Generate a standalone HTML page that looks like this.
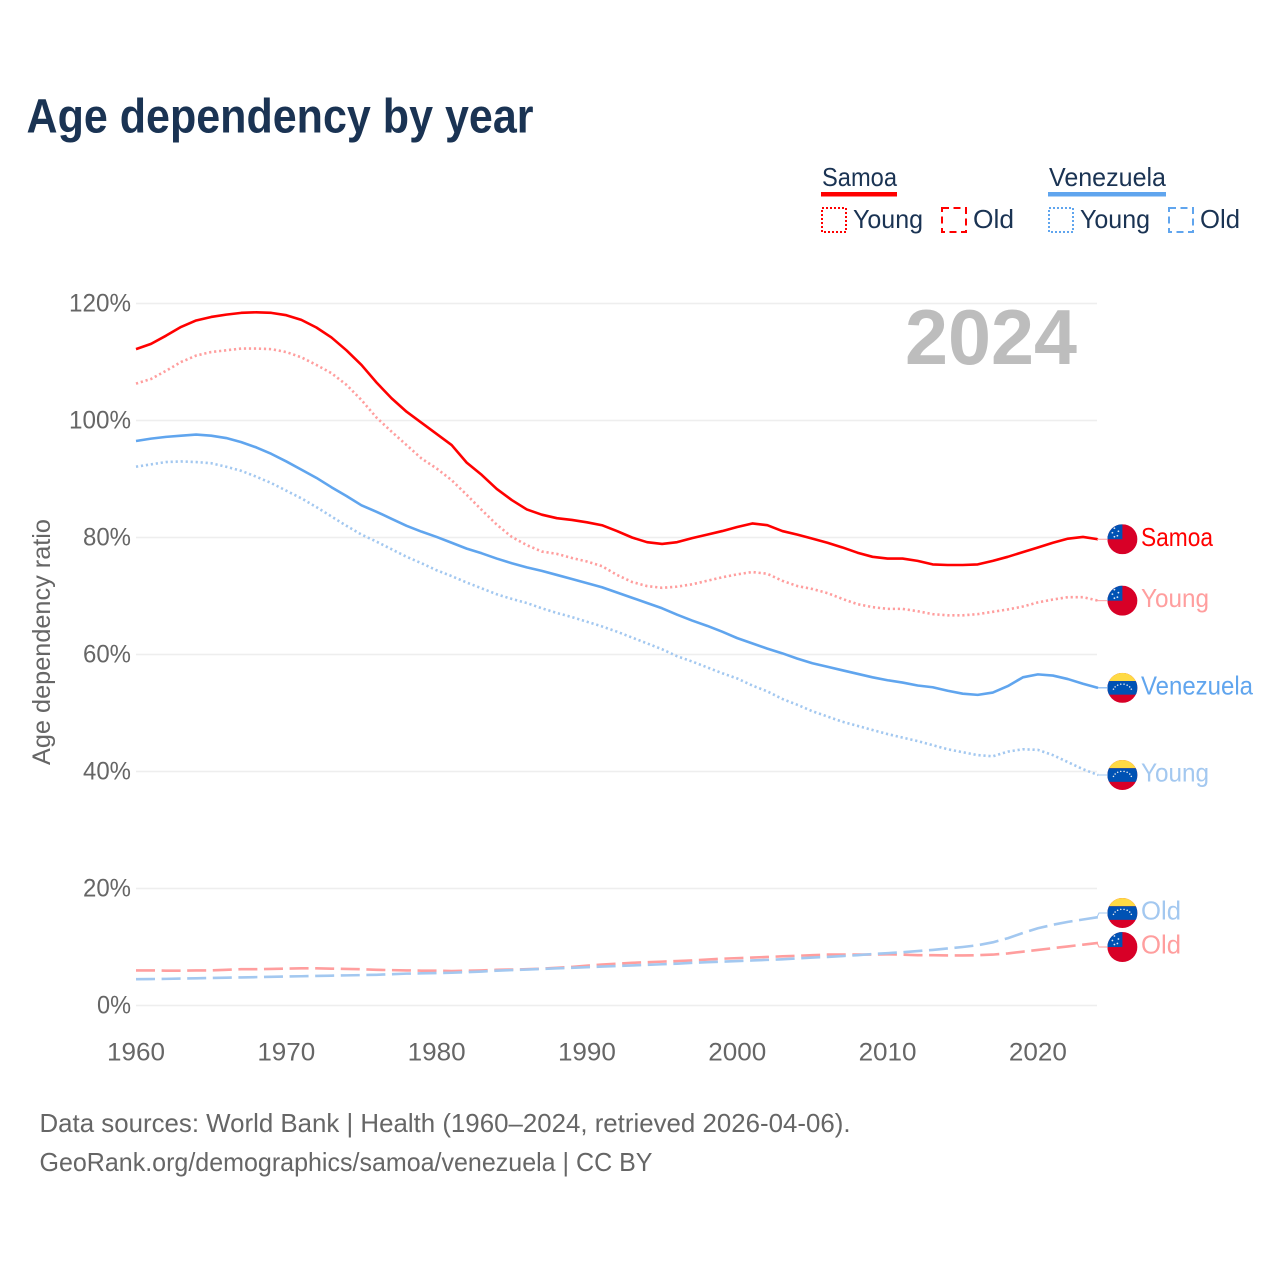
<!DOCTYPE html>
<html lang="en">
<head>
<meta charset="utf-8">
<title>Age dependency by year</title>
<style>
html,body{margin:0;padding:0;background:#fff;}
svg{display:block;}
text{font-family:"Liberation Sans",sans-serif;}
.tick{font-size:25px;fill:#666;}
.navy{fill:#1a3353;font-size:26px;}
</style>
</head>
<body>
<svg id="chart" xmlns="http://www.w3.org/2000/svg" width="1280" height="1280" viewBox="0 0 1280 1280">
  <rect width="1280" height="1280" fill="#fff"/>
  <text x="26.5" y="132.5" font-size="48" font-weight="700" fill="#1a3353" textLength="507" lengthAdjust="spacingAndGlyphs">Age dependency by year</text>

  <g>
    <text class="navy" x="822" y="186" textLength="75" lengthAdjust="spacingAndGlyphs">Samoa</text>
    <rect x="821" y="192" width="76" height="4.5" fill="#ff0000"/>
    <rect x="822" y="208" width="24" height="24" fill="none" stroke="#ff0000" stroke-width="2" stroke-dasharray="2 2"/>
    <text class="navy" x="853" y="228" textLength="70" lengthAdjust="spacingAndGlyphs">Young</text>
    <rect x="942" y="208" width="24" height="24" fill="none" stroke="#ff0000" stroke-width="2" stroke-dasharray="7 4.5"/>
    <text class="navy" x="973" y="228" textLength="41" lengthAdjust="spacingAndGlyphs">Old</text>

    <text class="navy" x="1049" y="186" textLength="117" lengthAdjust="spacingAndGlyphs">Venezuela</text>
    <rect x="1048" y="192" width="118" height="4.5" fill="#60a5ee"/>
    <rect x="1049" y="208" width="24" height="24" fill="none" stroke="#60a5ee" stroke-width="2" stroke-dasharray="2 2"/>
    <text class="navy" x="1080" y="228" textLength="70" lengthAdjust="spacingAndGlyphs">Young</text>
    <rect x="1169" y="208" width="24" height="24" fill="none" stroke="#60a5ee" stroke-width="2" stroke-dasharray="7 4.5"/>
    <text class="navy" x="1200" y="228" textLength="40" lengthAdjust="spacingAndGlyphs">Old</text>
  </g>

  <g id="grid"></g>
  <text x="905" y="364" font-size="78" font-weight="700" fill="#bdbdbd" textLength="172" lengthAdjust="spacingAndGlyphs">2024</text>
  <text transform="translate(50,765) rotate(-90)" font-size="25" fill="#666" textLength="246" lengthAdjust="spacingAndGlyphs">Age dependency ratio</text>
  <g id="yticks"></g>
  <g id="xticks"></g>
  <g id="series"></g>
  <g id="ends"></g>

  <text x="39.5" y="1132" font-size="26" fill="#666" textLength="811" lengthAdjust="spacingAndGlyphs">Data sources: World Bank | Health (1960–2024, retrieved 2026-04-06).</text>
  <text x="39.5" y="1171" font-size="26" fill="#666" textLength="613" lengthAdjust="spacingAndGlyphs">GeoRank.org/demographics/samoa/venezuela | CC BY</text>
</svg>
<script>
const firstYear = 1960;
const lastYear = 2024;
const yTickValues = [0, 20, 40, 60, 80, 100, 120];
const xTickValues = [1960, 1970, 1980, 1990, 2000, 2010, 2020];

const samoaTotal = [112.2,113.1,114.5,116.0,117.1,117.7,118.1,118.4,118.5,118.4,118.0,117.2,115.9,114.2,112.0,109.5,106.5,103.8,101.5,99.6,97.7,95.8,92.8,90.7,88.3,86.4,84.8,83.9,83.3,83.0,82.6,82.1,81.1,80.0,79.2,78.9,79.2,79.9,80.5,81.1,81.8,82.4,82.1,81.1,80.5,79.8,79.1,78.3,77.4,76.7,76.4,76.4,76.0,75.4,75.3,75.3,75.4,76.0,76.7,77.5,78.3,79.1,79.8,80.1,79.7];
const samoaYoung = [106.3,107.1,108.5,110.0,111.1,111.7,112.0,112.3,112.3,112.2,111.7,110.8,109.5,108.1,106.1,103.5,100.5,98.1,95.8,93.5,91.8,89.8,87.3,84.7,82.2,80.1,78.7,77.6,77.2,76.5,75.9,75.1,73.6,72.4,71.7,71.4,71.6,72.0,72.6,73.2,73.7,74.1,73.8,72.6,71.7,71.2,70.5,69.5,68.6,68.1,67.8,67.8,67.4,66.9,66.7,66.7,66.9,67.3,67.7,68.2,68.9,69.4,69.8,69.8,69.2];
const samoaOld = [6.0,6.0,5.95,5.95,6.0,6.0,6.1,6.2,6.2,6.25,6.3,6.35,6.35,6.3,6.25,6.2,6.1,6.05,6.0,5.95,5.95,5.9,5.95,6.0,6.1,6.15,6.2,6.3,6.45,6.6,6.8,7.0,7.15,7.3,7.4,7.5,7.6,7.7,7.85,8.0,8.1,8.2,8.3,8.4,8.5,8.6,8.7,8.7,8.7,8.7,8.75,8.7,8.6,8.6,8.55,8.55,8.6,8.7,8.9,9.2,9.5,9.8,10.1,10.4,10.7];
const venezuelaTotal = [96.5,96.9,97.2,97.4,97.6,97.4,97.0,96.3,95.4,94.3,93.0,91.6,90.2,88.6,87.1,85.5,84.4,83.2,82.0,81.0,80.1,79.1,78.1,77.3,76.4,75.6,74.9,74.3,73.6,72.9,72.2,71.5,70.6,69.7,68.8,67.9,66.8,65.8,64.9,63.9,62.8,61.9,61.0,60.2,59.3,58.5,57.9,57.3,56.7,56.1,55.6,55.2,54.7,54.4,53.8,53.3,53.1,53.5,54.6,56.1,56.6,56.4,55.8,55.0,54.3];
const venezuelaYoung = [92.1,92.5,92.9,93.0,92.9,92.7,92.1,91.4,90.4,89.3,88.0,86.7,85.2,83.6,82.0,80.5,79.3,78.0,76.7,75.6,74.4,73.4,72.3,71.3,70.3,69.5,68.8,67.9,67.1,66.4,65.6,64.8,63.9,62.9,61.9,60.9,59.7,58.8,57.8,56.8,55.9,54.7,53.7,52.4,51.4,50.3,49.4,48.5,47.8,47.1,46.4,45.8,45.2,44.5,43.8,43.3,42.8,42.6,43.4,43.8,43.7,42.8,41.6,40.4,39.4];
const venezuelaOld = [4.5,4.52,4.55,4.6,4.65,4.7,4.75,4.8,4.85,4.9,4.95,5.0,5.05,5.1,5.15,5.2,5.25,5.35,5.45,5.5,5.55,5.6,5.7,5.8,5.95,6.05,6.15,6.25,6.35,6.45,6.55,6.65,6.75,6.85,6.95,7.05,7.15,7.3,7.4,7.5,7.6,7.7,7.8,7.9,8.05,8.2,8.3,8.45,8.6,8.8,8.95,9.1,9.3,9.5,9.75,10.0,10.3,10.8,11.5,12.4,13.2,13.8,14.3,14.7,15.1];

const NS = 'http://www.w3.org/2000/svg';
function xScale(year) { return 136 + (year - firstYear) * (1098 - 136) / (lastYear - firstYear); }
function yScale(value) { return 1005.5 - value * 5.85; }
function make(tag, parent, attrs) {
  const el = document.createElementNS(NS, tag);
  for (const key in attrs) el.setAttribute(key, attrs[key]);
  parent.appendChild(el);
  return el;
}

const gridGroup = document.getElementById('grid');
const yTickGroup = document.getElementById('yticks');
const xTickGroup = document.getElementById('xticks');
const seriesGroup = document.getElementById('series');
const endGroup = document.getElementById('ends');

yTickValues.forEach(function (value) {
  const line = make('line', gridGroup, { x1: 136, x2: 1097, y1: yScale(value), y2: yScale(value), stroke: '#eeeeee', 'stroke-width': 1.6 });
  
  
  const label = value + '%';
  const text = make('text', yTickGroup, { x: 131, y: yScale(value) + 8, 'text-anchor': 'end', class: 'tick', textLength: 20 + 14 * (label.length - 1), lengthAdjust: 'spacingAndGlyphs' });
  text.textContent = label;
  
  
});

xTickValues.forEach(function (year) {
  const text = make('text', xTickGroup, { x: xScale(year), y: 1060.5, 'text-anchor': 'middle', class: 'tick', textLength: 58, lengthAdjust: 'spacingAndGlyphs' });
  text.textContent = String(year);
  
  
});

const RED = '#ff0000', LRED = '#ff9e9e', BLUE = '#60a5ee', LBLUE = '#a3c8f0';
const DOT = '2.2 2.8', DASH = '19 6.6';
const seriesList = [
  { id: 'samoa-total', values: samoaTotal, color: RED, width: 2.6, dash: '', label: 'Samoa', labelWidth: 72, labelColor: RED, leader: LRED, flag: 'samoa' },
  { id: 'samoa-young', values: samoaYoung, color: LRED, width: 2.6, dash: DOT, label: 'Young', labelWidth: 68, labelColor: LRED, leader: LRED, flag: 'samoa' },
  { id: 'samoa-old', values: samoaOld, color: LRED, width: 2.6, dash: DASH, label: 'Old', labelWidth: 40, labelColor: LRED, leader: LRED, flag: 'samoa' },
  { id: 'venezuela-total', values: venezuelaTotal, color: BLUE, width: 2.6, dash: '', label: 'Venezuela', labelWidth: 112, labelColor: BLUE, leader: BLUE, flag: 'venezuela' },
  { id: 'venezuela-young', values: venezuelaYoung, color: LBLUE, width: 2.6, dash: DOT, label: 'Young', labelWidth: 68, labelColor: LBLUE, leader: LBLUE, flag: 'venezuela' },
  { id: 'venezuela-old', values: venezuelaOld, color: LBLUE, width: 2.6, dash: DASH, label: 'Old', labelWidth: 40, labelColor: LBLUE, leader: LBLUE, flag: 'venezuela' }
];

seriesList.forEach(function (s) {
  const d = s.values.map(function (v, i) {
    return (i ? 'L' : 'M') + xScale(firstYear + i).toFixed(2) + ' ' + yScale(v).toFixed(2);
  }).join(' ');
  const attrs = { d: d, fill: 'none', stroke: s.color, 'stroke-width': s.width, 'stroke-linejoin': 'round' };
  if (s.dash) attrs['stroke-dasharray'] = s.dash;
  const path = make('path', seriesGroup, attrs);
  
  
});

/* push overlapping end labels apart */
const MIN_GAP = 34;
const ordered = seriesList.map(function (s) {
  const end = yScale(s.values[s.values.length - 1]);
  return { s: s, end: end, y: end };
}).sort(function (a, b) { return a.end - b.end; });
for (let pass = 0; pass < 8; pass++) {
  for (let i = 1; i < ordered.length; i++) {
    const gap = ordered[i].y - ordered[i - 1].y;
    if (gap < MIN_GAP) {
      const shift = (MIN_GAP - gap) / 2;
      ordered[i - 1].y -= shift;
      ordered[i].y += shift;
    }
  }
}

function drawSamoaFlag(group, cx, cy, clipId) {
  const clip = make('g', group, { 'clip-path': 'url(#' + clipId + ')' });
  make('rect', clip, { x: cx - 15, y: cy - 15, width: 30, height: 30, fill: '#d80027' });
  make('rect', clip, { x: cx - 15, y: cy - 15, width: 15, height: 15, fill: '#0052b4' });
  [[-8, -11], [-4, -8], [-10, -6.5], [-5, -3.5], [-8, -2.5]].forEach(function (p) {
    make('circle', clip, { cx: cx + p[0], cy: cy + p[1], r: 0.9, fill: '#dfe8f5' });
  });
}
function drawVenezuelaFlag(group, cx, cy, clipId) {
  const clip = make('g', group, { 'clip-path': 'url(#' + clipId + ')' });
  make('rect', clip, { x: cx - 15, y: cy - 15, width: 30, height: 30, fill: '#d80027' });
  make('rect', clip, { x: cx - 15, y: cy - 15, width: 30, height: 8.2, fill: '#ffda44' });
  make('rect', clip, { x: cx - 15, y: cy - 6.8, width: 30, height: 13.6, fill: '#0052b4' });
  for (let a = 200; a <= 340; a += 20) {
    const rad = a * Math.PI / 180;
    make('circle', clip, { cx: cx + 9.5 * Math.cos(rad), cy: cy + 4 + 7.8 * Math.sin(rad), r: 0.75, fill: '#f0f0f0' });
  }
}

const defs = make('defs', endGroup, {});
ordered.forEach(function (o, index) {
  const s = o.s;
  const g = make('g', endGroup, {});
  
  
  const lead = make('path', g, { d: 'M1097 ' + o.end.toFixed(2) + ' L1099 ' + o.y.toFixed(2) + ' L1107 ' + o.y.toFixed(2), fill: 'none', stroke: s.leader, 'stroke-width': 1 });
  
  
  const clipId = 'flag-clip-' + index;
  const cp = make('clipPath', defs, { id: clipId });
  make('circle', cp, { cx: 1122.4, cy: o.y, r: 15 });
  const flag = make('g', g, {});
  
  
  if (s.flag === 'samoa') drawSamoaFlag(flag, 1122.4, o.y, clipId);
  else drawVenezuelaFlag(flag, 1122.4, o.y, clipId);
  const t = make('text', g, { x: 1141, y: o.y + 6.5, 'font-size': 26, fill: s.labelColor, textLength: s.labelWidth, lengthAdjust: 'spacingAndGlyphs' });
  t.textContent = s.label;
  
  
});
</script>
</body>
</html>
